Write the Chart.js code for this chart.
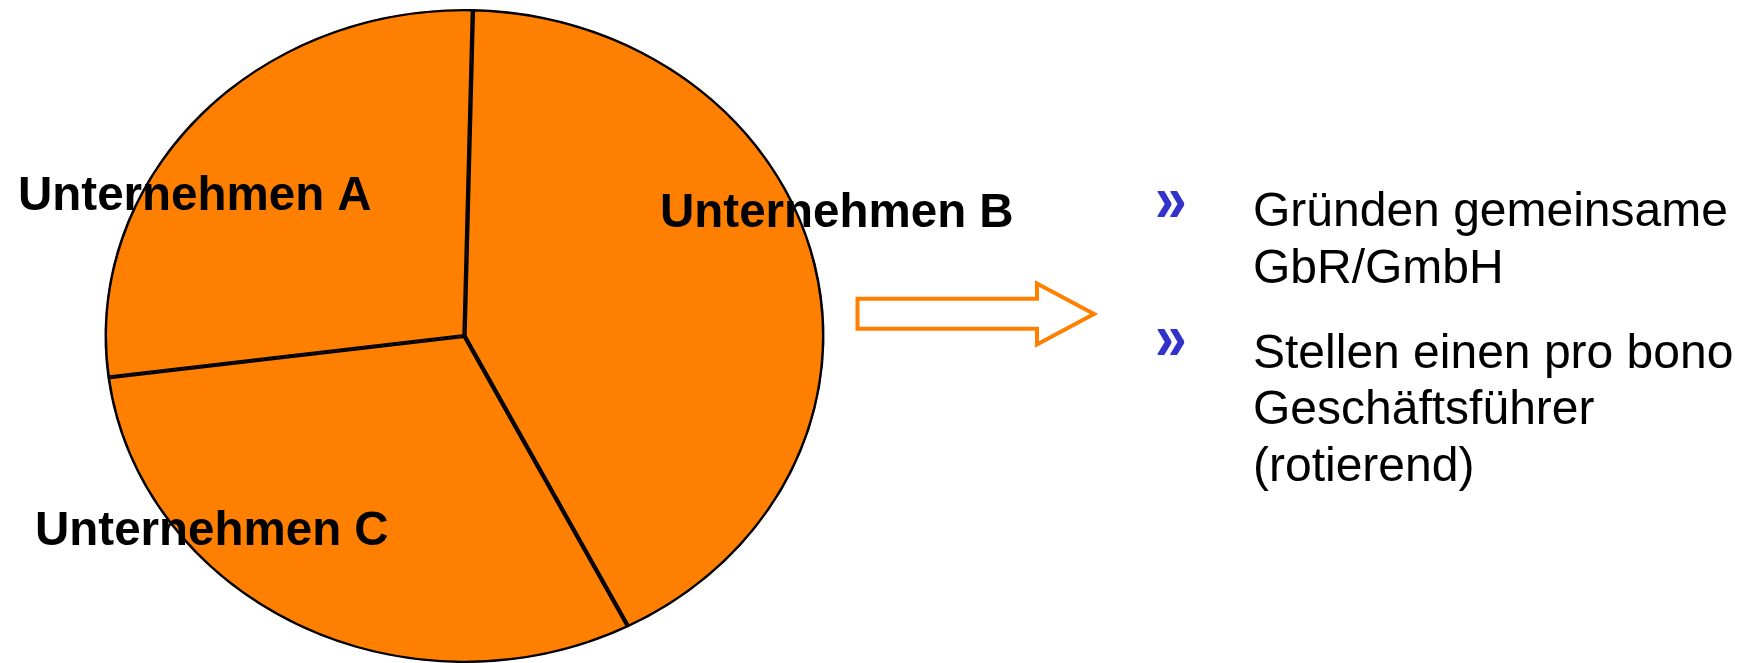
<!DOCTYPE html>
<html><head><meta charset="utf-8">
<script src="https://cdn.jsdelivr.net/npm/chart.js@4.4.1/dist/chart.umd.min.js"></script>
<style>
html,body{margin:0;padding:0;background:#fff;overflow:hidden}
#wrap{position:relative;width:1747px;height:663px}
canvas{position:absolute;left:0;top:0}
.b{position:absolute;font-family:"Liberation Sans",Arial,sans-serif;font-size:48px;line-height:48px;color:#000;white-space:nowrap}
.m{position:absolute;font-family:"Liberation Sans",Arial,sans-serif;font-weight:bold;font-size:60px;line-height:60px;color:#3333CC;white-space:nowrap;transform:scale(0.95,1.1);transform-origin:left bottom}
</style></head><body>
<div id="wrap"><canvas id="c" width="1747" height="663"></canvas></div>
<script>
// ---- data ----
const categories = ['Unternehmen A', 'Unternehmen B', 'Unternehmen C'];
const shares = [27.4, 42.1, 30.5];
const bulletItems = [
  ['Gründen gemeinsame', 'GbR/GmbH'],
  ['Stellen einen pro bono', 'Geschäftsführer', '(rotierend)']
];

// ---- layout (positions / styles) ----
const ORANGE = '#FF8000';
const pieCenterX = 464.5, radiusY = 327, radiusX = 360;
const labelPos = [{x: 18, y: 210}, {x: 660, y: 226.5}, {x: 35, y: 545}];
const arrowPts = [[857.5,298.7],[1037,298.7],[1037,283.5],[1094,314],[1037,344.5],[1037,328.7],[857.5,328.7]];

const ellipsePlugin = {
  id: 'ellipse',
  beforeDatasetsDraw(chart) {
    const ctx = chart.ctx;
    ctx.save();
    ctx.translate(pieCenterX, 0);
    ctx.scale(radiusX / radiusY, 1);
    ctx.translate(-pieCenterX, 0);
  },
  afterDatasetsDraw(chart) {
    const ctx = chart.ctx;
    ctx.restore();
    // slice labels
    ctx.save();
    ctx.fillStyle = '#000';
    ctx.font = 'bold 47.5px "Liberation Sans", Arial, sans-serif';
    ctx.textBaseline = 'alphabetic';
    ctx.textAlign = 'left';
    chart.data.labels.forEach((lab, i) => ctx.fillText(lab, labelPos[i].x, labelPos[i].y));
    // outlined arrow
    ctx.beginPath();
    arrowPts.forEach((p, i) => i ? ctx.lineTo(p[0], p[1]) : ctx.moveTo(p[0], p[1]));
    ctx.closePath();
    ctx.lineWidth = 4;
    ctx.lineJoin = 'miter';
    ctx.strokeStyle = ORANGE;
    ctx.stroke();
    ctx.restore();
  }
};

new Chart(document.getElementById('c'), {
  type: 'pie',
  data: {
    labels: categories,
    datasets: [{
      data: shares,
      backgroundColor: ORANGE,
      borderColor: '#000',
      borderWidth: 2,
      borderAlign: 'inner',
      borderJoinStyle: 'miter',
      hoverOffset: 0,
      offset: 0,
      clip: false
    }]
  },
  options: {
    responsive: false,
    animation: false,
    devicePixelRatio: 1,
    rotation: -97.3,
    radius: radiusY,
    layout: {padding: {left: 0, right: 818, top: 9, bottom: 0}},
    events: [],
    plugins: {legend: {display: false}, tooltip: {enabled: false}}
  },
  plugins: [ellipsePlugin]
});

// ---- bullet list (HTML text) ----
const wrap = document.getElementById('wrap');
const bulletBaselines = [226.7, 368.3];
const bulletBottoms = [233, 370.5];
const lineStep = 56.7;
bulletItems.forEach((lines, bi) => {
  const mark = document.createElement('div');
  mark.className = 'm';
  mark.textContent = '»';
  mark.style.left = '1155px';
  mark.style.top = (bulletBottoms[bi] - 60) + 'px';
  wrap.appendChild(mark);
  lines.forEach((t, li) => {
    const d = document.createElement('div');
    d.className = 'b';
    d.textContent = t;
    d.style.left = '1253px';
    d.style.top = (bulletBaselines[bi] + li * lineStep - 40.6) + 'px';
    wrap.appendChild(d);
  });
});
</script>
</body></html>
